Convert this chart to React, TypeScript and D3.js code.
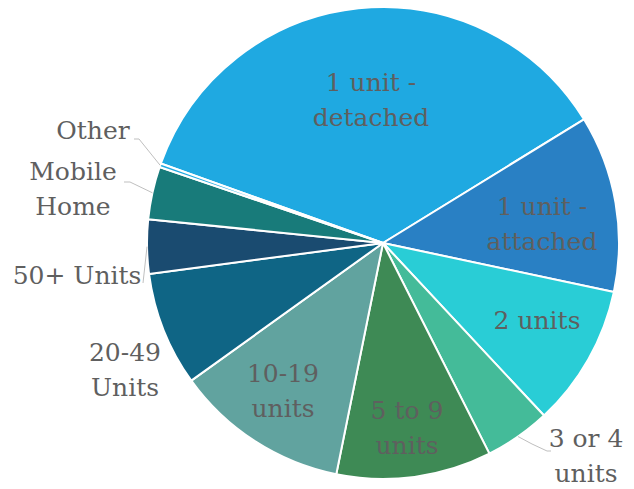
import React from "react";
import * as d3 from "d3";

const categories = [
  "1 unit - detached",
  "1 unit - attached",
  "2 units",
  "3 or 4 units",
  "5 to 9 units",
  "10-19 units",
  "20-49 Units",
  "50+ Units",
  "Mobile Home",
  "Other",
];
const values = [35.7, 12.1, 9.7, 4.5, 10.6, 11.9, 7.8, 3.7, 3.6, 0.25];
const colors = [
  "#1FA9E1",
  "#2980C4",
  "#29CDD6",
  "#44BB99",
  "#3E8A55",
  "#61A39F",
  "#0F6585",
  "#1A4B70",
  "#187B7A",
  "#1FA9E1",
];
const labelLines = [
  ["1 unit -", "detached"],
  ["1 unit -", "attached"],
  ["2 units"],
  ["3 or 4", "units"],
  ["5 to 9", "units"],
  ["10-19", "units"],
  ["20-49", "Units"],
  ["50+ Units"],
  ["Mobile", "Home"],
  ["Other"],
];

// layout (positions only)
const W = 634;
const H = 489;
const CX = 383;
const CY = 243;
const R = 236;
const START_DEG = -70.33;
const labelPos: { x: number; y: number; anchor: string }[] = [
  { x: 371, y: 100, anchor: "middle" },
  { x: 542, y: 224, anchor: "middle" },
  { x: 537, y: 320, anchor: "middle" },
  { x: 586, y: 456, anchor: "middle" },
  { x: 407, y: 428, anchor: "middle" },
  { x: 283, y: 391, anchor: "middle" },
  { x: 125, y: 370, anchor: "middle" },
  { x: 77, y: 275, anchor: "middle" },
  { x: 73, y: 189, anchor: "middle" },
  { x: 93, y: 130, anchor: "middle" },
];
// leader line knee points (for outside labels)
const leaders: Record<number, [number, number][]> = {
  3: [[532, 444], [547, 451], [551, 451]],
  7: [[143, 283]],
  8: [[130, 182], [124, 182]],
  9: [[139, 139], [134, 139]],
};
const LINE_H = 35;

export default function App() {
  const pie = d3
    .pie<number>()
    .sort(null)
    .startAngle((START_DEG * Math.PI) / 180)
    .endAngle((START_DEG * Math.PI) / 180 + 2 * Math.PI);
  const arcs = pie(values);
  const arc = d3.arc<d3.PieArcDatum<number>>().innerRadius(0).outerRadius(R);

  return (
    <svg
      width={W}
      height={H}
      style={{ position: "absolute", left: 0, top: 0, background: "#fff" }}
      fontFamily="'DejaVu Serif', serif"
    >
      <g transform={`translate(${CX},${CY})`}>
        {arcs.map((a, i) => (
          <path
            key={categories[i]}
            d={arc(a) || ""}
            fill={colors[i]}
            stroke="#fff"
            strokeWidth={2}
            strokeLinejoin="round"
          />
        ))}
      </g>
      {arcs.map((a, i) => {
        const pts = leaders[i];
        if (!pts) return null;
        const mid = (a.startAngle + a.endAngle) / 2;
        const ex = CX + R * Math.sin(mid);
        const ey = CY - R * Math.cos(mid);
        const line = d3.line()([[ex, ey], ...pts]);
        return (
          <path key={"l" + i} d={line || ""} fill="none" stroke="#BFBFBF" strokeWidth={1} />
        );
      })}
      {labelLines.map((lines, i) => {
        const p = labelPos[i];
        const n = lines.length;
        return (
          <text
            key={"t" + i}
            x={p.x}
            y={p.y}
            textAnchor={p.anchor}
            fontSize={25}
            fill="#5F5F5F"
          >
            {lines.map((ln, j) => (
              <tspan
                key={j}
                x={p.x}
                y={p.y + (j - (n - 1) / 2) * LINE_H}
                dominantBaseline="central"
              >
                {ln}
              </tspan>
            ))}
          </text>
        );
      })}
    </svg>
  );
}
